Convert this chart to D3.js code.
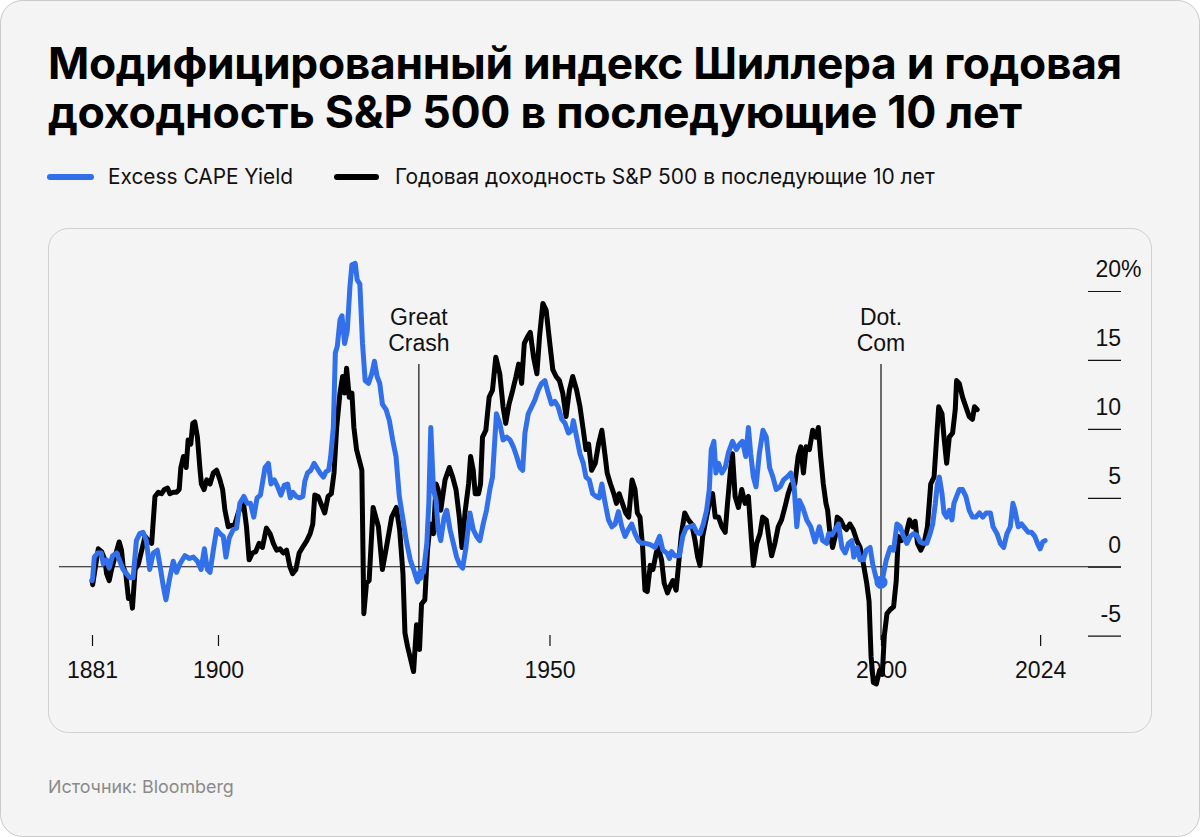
<!DOCTYPE html>
<html><head><meta charset="utf-8">
<script src="https://cdn.jsdelivr.net/npm/d3@7"></script>
<style>
html,body{margin:0;padding:0;background:#fff;}
svg{display:block;}
</style></head><body>
<svg id="chart" width="1200" height="837"></svg>
<script>
const titleLines = ["Модифицированный индекс Шиллера и годовая", "доходность S&P 500 в последующие 10 лет"];
const legendLabels = ["Excess CAPE Yield", "Годовая доходность S&P 500 в последующие 10 лет"];
const xTickYears = [1881, 1900, 1950, 2000, 2024];
const yTickValues = [-5, 0, 5, 10, 15, 20];
const events = [{label: ["Great", "Crash"], year: 1930.3}, {label: ["Dot.", "Com"], year: 2000}];
const sourceText = "Источник: Bloomberg";

// Excess CAPE Yield, % [year, value]
const excessCapeYield = [
[1881.0,-1.0],[1881.1,-0.8],[1881.35,0.7],[1881.85,1.0],[1882.4,1.0],[1882.7,0.2],[1883.2,0.5],[1883.6,-0.1],[1884.1,0.8],[1884.7,1.0],
[1885.2,0.4],[1885.7,-0.2],[1886.2,-0.5],[1886.7,-0.8],[1887.2,-0.8],[1887.7,1.9],[1888.2,2.4],[1888.7,2.5],[1889.2,1.9],[1889.7,-0.2],
[1890.25,1.0],[1890.85,1.2],[1891.35,-0.2],[1891.75,-1.4],[1892.15,-2.4],[1892.65,-1.0],[1893.25,0.4],[1893.75,-0.4],[1894.25,0.2],[1895.0,0.8],
[1895.7,0.6],[1896.3,0.7],[1896.9,0.4],[1897.45,-0.2],[1897.95,1.3],[1898.4,-0.2],[1898.8,-0.4],[1899.3,1.2],[1899.8,2.7],[1900.3,2.4],
[1900.8,2.2],[1901.2,0.7],[1901.7,2.1],[1902.3,2.7],[1902.8,2.8],[1903.3,4.6],[1903.9,5.1],[1904.4,4.6],[1904.9,4.6],[1905.4,3.6],
[1905.9,5.0],[1906.4,5.2],[1907.1,7.2],[1907.6,7.5],[1908.0,6.0],[1908.5,6.3],[1909.0,5.8],[1909.5,5.2],[1910.0,5.9],[1910.5,6.0],
[1910.9,5.0],[1911.3,5.4],[1911.8,5.1],[1912.3,5.0],[1912.8,5.1],[1913.1,6.2],[1913.5,6.8],[1914.0,7.0],[1914.5,7.5],[1914.9,7.2],
[1915.4,6.8],[1915.9,6.5],[1916.3,6.9],[1916.7,7.0],[1917.0,8.0],[1917.4,10.1],[1917.7,15.5],[1918.0,16.0],[1918.4,17.9],[1918.7,18.2],
[1919.1,16.2],[1919.5,17.1],[1919.9,20.3],[1920.2,21.9],[1920.7,22.0],[1921.0,20.8],[1921.4,20.5],[1921.8,16.2],[1922.2,13.5],[1922.7,13.3],
[1923.2,14.0],[1923.6,14.9],[1924.0,13.8],[1924.4,13.3],[1924.8,11.8],[1925.35,11.4],[1925.85,10.6],[1926.35,9.2],[1926.85,8.0],[1927.35,5.1],
[1927.85,3.6],[1928.4,1.9],[1929.0,0.5],[1929.5,-0.2],[1930.1,-1.1],[1930.5,-0.3],[1931.0,-0.4],[1931.5,1.7],[1931.8,4.6],[1932.1,10.1],
[1932.5,5.6],[1932.9,4.8],[1933.2,2.7],[1933.6,1.9],[1934.1,3.6],[1934.5,4.1],[1935.0,2.7],[1935.5,1.7],[1936.0,0.7],[1936.5,0.1],
[1936.9,-0.1],[1937.4,1.4],[1938.0,3.9],[1938.5,2.7],[1939.0,2.2],[1939.5,1.9],[1940.0,3.1],[1940.5,4.1],[1941.0,5.6],[1941.4,6.5],
[1942.0,11.1],[1942.5,10.4],[1943.0,9.2],[1943.55,9.4],[1944.05,9.2],[1944.55,8.7],[1945.05,8.0],[1945.55,7.2],[1945.95,7.0],[1946.3,9.7],
[1946.8,11.1],[1947.3,11.6],[1947.8,12.1],[1948.3,12.8],[1948.8,13.3],[1949.3,13.5],[1949.8,12.6],[1950.3,11.8],[1950.8,12.0],[1951.3,11.6],
[1951.85,10.7],[1952.35,10.4],[1952.85,9.7],[1953.35,9.9],[1953.6,10.6],[1954.1,9.4],[1954.6,8.2],[1955.1,7.5],[1955.5,6.5],[1956.0,6.3],
[1956.5,5.3],[1957.0,5.1],[1957.5,5.0],[1957.9,6.0],[1958.4,4.6],[1958.9,3.4],[1959.4,2.9],[1959.9,3.1],[1960.4,4.0],[1960.9,2.9],
[1961.4,2.2],[1961.9,2.7],[1962.4,3.1],[1962.9,2.4],[1963.4,1.9],[1963.9,1.7],[1964.5,1.7],[1965.2,1.6],[1965.9,1.4],[1966.6,2.2],
[1967.1,1.2],[1967.7,1.0],[1968.1,0.6],[1968.4,1.1],[1968.9,0.8],[1969.6,0.8],[1970.1,2.2],[1970.6,2.8],[1971.1,2.9],[1971.7,3.0],
[1972.2,2.5],[1972.7,2.4],[1973.2,3.1],[1973.7,4.1],[1974.1,5.6],[1974.4,8.5],[1974.8,9.1],[1975.1,6.8],[1975.5,7.5],[1976.0,6.8],
[1976.5,7.2],[1977.0,8.3],[1977.6,9.1],[1978.2,8.5],[1978.7,8.9],[1979.1,9.1],[1979.6,8.0],[1980.0,10.1],[1980.35,8.2],[1980.75,6.5],
[1981.15,5.8],[1981.65,8.2],[1982.2,9.9],[1982.7,9.4],[1983.2,7.2],[1983.7,6.5],[1984.2,5.6],[1984.8,5.8],[1985.3,6.3],[1985.8,6.5],
[1986.4,6.8],[1986.9,5.8],[1987.3,2.9],[1987.7,4.8],[1988.2,4.3],[1988.8,3.4],[1989.4,2.9],[1990.05,1.8],[1990.7,2.9],[1991.2,1.9],
[1991.8,1.7],[1992.1,2.4],[1992.6,2.3],[1993.1,2.7],[1993.6,3.1],[1994.1,1.4],[1994.6,1.0],[1995.1,1.7],[1995.6,1.9],[1995.9,0.7],
[1996.4,1.4],[1996.85,0.5],[1997.35,0.5],[1997.75,1.2],[1998.35,1.4],[1998.75,0.2],[1999.25,-0.8],[1999.8,-1.4],[2000.3,-0.7],[2000.8,0.5],
[2001.4,1.4],[2001.9,1.2],[2002.4,3.1],[2002.9,2.9],[2003.4,2.2],[2003.9,1.7],[2004.4,2.2],[2004.9,2.4],[2005.4,2.3],[2005.9,1.8],
[2006.4,1.7],[2006.9,1.7],[2007.4,2.4],[2007.8,3.1],[2008.2,4.6],[2008.5,6.0],[2008.8,6.5],[2009.2,5.3],[2009.5,3.9],[2009.9,3.6],
[2010.3,4.1],[2010.7,3.4],[2011.0,4.6],[2011.4,5.1],[2011.8,5.6],[2012.3,5.6],[2012.8,5.1],[2013.3,4.1],[2013.8,3.6],[2014.3,3.6],
[2014.85,3.9],[2015.35,3.6],[2015.85,3.9],[2016.5,3.9],[2016.9,2.9],[2017.5,2.4],[2018.0,1.7],[2018.5,1.4],[2019.0,2.4],[2019.5,2.9],
[2019.9,4.6],[2020.2,4.1],[2020.7,2.9],[2021.2,3.1],[2021.7,2.8],[2022.2,2.5],[2022.7,2.5],[2023.2,2.2],[2023.6,1.7],[2024.0,1.3],
[2024.4,1.8],[2024.75,1.9]
];

// Annualized S&P 500 return over the following 10 years, % [year, value]
const forwardReturn10y = [
[1881.0,-1.0],[1881.1,-1.3],[1881.45,-0.2],[1881.95,1.3],[1882.45,1.1],[1882.95,0.5],[1883.2,-0.5],[1883.6,-1.0],[1883.95,-0.2],[1884.45,0.7],
[1885.1,1.8],[1885.45,1.2],[1885.7,0.0],[1886.1,-0.5],[1886.5,-2.3],[1886.9,-2.2],[1887.1,-3.0],[1887.5,-0.2],[1888.0,0.2],[1888.5,1.2],
[1889.0,2.2],[1889.5,1.9],[1890.0,1.7],[1890.5,5.1],[1891.0,5.4],[1891.5,5.3],[1891.9,5.6],[1892.4,5.7],[1892.75,5.3],[1893.25,5.4],
[1893.75,5.4],[1894.15,5.6],[1894.4,7.2],[1894.8,8.0],[1895.2,7.2],[1895.5,9.2],[1895.9,8.9],[1896.2,10.4],[1896.5,10.5],[1896.9,9.4],
[1897.3,7.0],[1897.5,6.0],[1897.9,5.6],[1898.3,6.3],[1898.8,6.0],[1899.3,6.8],[1899.8,7.0],[1900.3,6.3],[1900.7,5.6],[1901.05,4.1],
[1901.55,2.9],[1902.05,3.0],[1902.55,3.1],[1903.05,3.9],[1903.8,4.8],[1904.3,2.9],[1904.7,0.5],[1905.2,1.0],[1905.7,1.1],[1906.2,1.7],
[1906.7,1.4],[1907.3,2.8],[1907.85,2.4],[1908.35,1.7],[1908.85,1.2],[1909.35,1.3],[1909.85,1.0],[1910.35,1.2],[1910.85,0.0],[1911.25,-0.5],
[1911.75,-0.2],[1912.25,1.0],[1912.75,1.4],[1913.4,1.9],[1913.9,2.4],[1914.3,3.1],[1914.6,5.2],[1915.1,5.1],[1915.6,4.5],[1916.1,3.9],
[1916.6,5.1],[1917.1,5.3],[1917.5,6.8],[1917.9,10.1],[1918.4,12.6],[1918.8,13.8],[1919.1,12.6],[1919.4,14.4],[1919.8,12.3],[1920.2,12.6],
[1920.5,10.1],[1920.9,8.5],[1921.7,7.0],[1922.0,-3.4],[1922.4,-1.2],[1922.8,-1.0],[1923.4,4.3],[1924.2,2.9],[1924.8,-0.2],[1925.4,1.4],
[1926.2,3.6],[1926.9,4.3],[1927.4,2.7],[1927.9,-0.5],[1928.2,-4.8],[1928.6,-5.8],[1929.1,-6.8],[1929.5,-7.6],[1929.95,-4.2],[1930.4,-6.0],
[1930.7,-2.7],[1931.2,-2.4],[1931.6,1.2],[1932.0,3.1],[1932.5,2.4],[1932.9,6.0],[1933.2,5.6],[1933.6,4.1],[1934.25,6.3],[1934.9,7.2],
[1935.4,6.5],[1935.9,5.6],[1936.4,3.6],[1936.8,1.4],[1937.3,4.1],[1937.8,6.0],[1938.1,8.0],[1938.5,7.0],[1938.8,5.3],[1939.3,5.3],
[1939.6,6.0],[1939.9,9.4],[1940.4,9.9],[1940.9,12.3],[1941.4,12.8],[1941.9,15.2],[1942.5,14.0],[1943.0,11.6],[1943.4,10.4],[1943.9,11.8],
[1944.45,12.8],[1944.95,13.8],[1945.35,14.7],[1945.8,13.3],[1946.2,16.2],[1946.7,16.7],[1947.1,17.0],[1947.6,15.2],[1948.1,14.0],[1948.5,16.7],
[1949.0,19.1],[1949.5,18.6],[1950.0,16.4],[1950.5,14.3],[1951.0,13.8],[1951.5,13.5],[1952.0,12.6],[1952.5,10.9],[1953.0,12.8],[1953.5,13.8],
[1954.1,12.8],[1954.6,11.6],[1955.1,9.9],[1955.5,8.5],[1955.9,8.9],[1956.35,7.0],[1956.9,7.5],[1957.4,8.9],[1957.9,9.9],[1958.4,8.0],
[1958.7,6.8],[1959.2,6.0],[1959.7,5.3],[1960.1,4.6],[1960.5,5.3],[1961.0,4.6],[1961.5,3.9],[1961.95,3.6],[1962.45,6.3],[1962.9,5.6],
[1963.25,3.9],[1963.65,3.6],[1964.05,1.4],[1964.4,-1.7],[1964.75,-1.8],[1965.2,0.1],[1965.6,-0.2],[1966.1,1.0],[1966.4,1.4],[1966.9,0.5],
[1967.3,-1.2],[1967.8,-1.9],[1968.2,-1.4],[1968.6,-1.0],[1969.1,-1.7],[1969.4,-0.2],[1969.9,2.4],[1970.4,3.9],[1970.95,3.4],[1971.45,3.1],
[1971.95,1.9],[1972.35,0.7],[1972.7,0.1],[1973.1,2.2],[1973.6,3.4],[1974.1,4.6],[1974.6,5.3],[1975.0,3.6],[1975.5,3.6],[1976.0,2.9],
[1976.5,2.5],[1976.85,4.6],[1977.3,7.0],[1977.6,8.2],[1978.0,5.1],[1978.5,4.3],[1979.0,5.6],[1979.5,4.6],[1980.0,5.1],[1980.5,1.7],
[1980.75,0.1],[1981.25,1.7],[1981.75,2.4],[1982.15,3.6],[1982.7,3.4],[1983.2,1.7],[1983.5,0.8],[1984.0,1.7],[1984.5,2.9],[1985.0,3.4],
[1985.5,4.3],[1986.0,5.3],[1986.5,6.0],[1987.0,6.0],[1987.5,8.0],[1987.9,8.7],[1988.3,6.8],[1988.7,8.7],[1989.2,8.5],[1989.7,9.9],
[1990.2,9.4],[1990.55,10.1],[1990.9,8.0],[1991.3,6.0],[1991.7,4.6],[1991.95,4.1],[1992.3,2.4],[1992.7,1.4],[1993.1,2.2],[1993.4,3.6],
[1993.9,3.4],[1994.4,2.9],[1994.8,2.7],[1995.3,3.1],[1995.8,2.7],[1996.35,1.9],[1996.85,1.4],[1997.35,0.2],[1997.85,-1.2],[1998.2,-2.5],
[1998.5,-6.5],[1998.85,-8.4],[1999.3,-8.5],[1999.8,-7.5],[2000.2,-7.8],[2000.5,-5.0],[2000.9,-3.4],[2001.4,-3.1],[2001.9,-2.9],[2002.3,-1.0],
[2002.6,2.2],[2003.1,1.9],[2003.8,2.4],[2004.3,3.4],[2004.8,2.9],[2005.15,3.3],[2005.5,1.7],[2006.0,1.2],[2006.5,1.7],[2007.0,2.9],
[2007.5,6.0],[2008.0,6.5],[2008.4,9.4],[2008.7,11.6],[2009.2,11.1],[2009.5,9.4],[2009.9,7.5],[2010.3,9.4],[2010.8,9.7],[2011.2,11.4],
[2011.4,13.5],[2011.8,13.3],[2012.3,12.3],[2012.8,11.6],[2013.3,10.9],[2013.8,10.7],[2014.1,11.6],[2014.5,11.4]
];

const BLUE = "#3170ea";
const svg = d3.select("#chart");

// page card
svg.append("rect").attr("x", 0.5).attr("y", 0.5).attr("width", 1199).attr("height", 836)
  .attr("rx", 22).attr("fill", "#f4f4f4").attr("stroke", "#c9c9c9");

function fit(sel, w) {
  const L = sel.node().getComputedTextLength();
  const fs = parseFloat(sel.attr("font-size"));
  sel.attr("font-size", fs * w / L);
}

// title: one text element, one tspan per line
const titleWidths = [1074, 974];
const title = svg.append("text").attr("x", 48).attr("y", 79)
  .attr("font-family", "Inter, 'Noto Sans', sans-serif").attr("font-weight", 700)
  .attr("letter-spacing", "-0.3").attr("fill", "#000");
titleLines.forEach((t, i) => {
  const ts = title.append("tspan").attr("x", 48).attr("y", 79 + i * 49)
    .attr("font-size", 44).text(t);
  fit(ts, titleWidths[i]);
});

// legend
const legendItems = [
  {label: legendLabels[0], color: BLUE, x0: 50, x1: 91, tx: 108, w: 185},
  {label: legendLabels[1], color: "#000", x0: 337, x1: 376, tx: 395, w: 540}
];
legendItems.forEach(d => {
  svg.append("line").attr("x1", d.x0).attr("x2", d.x1).attr("y1", 177).attr("y2", 177)
    .attr("stroke", d.color).attr("stroke-width", 6).attr("stroke-linecap", "round");
  const s = svg.append("text").attr("x", d.tx).attr("y", 184)
    .attr("font-family", "Inter, 'Noto Sans', sans-serif").attr("font-size", 18)
    .attr("fill", "#111").text(d.label);
  fit(s, d.w);
});

// chart panel
svg.append("rect").attr("x", 48.5).attr("y", 228.5).attr("width", 1103).attr("height", 504)
  .attr("rx", 20).attr("fill", "#f4f4f4").attr("stroke", "#cfcfcf");

const x = d3.scaleLinear().domain([1881, 2000]).range([92, 881]);
const y = d3.scaleLinear().domain([-5, 20]).range([635.7, 291]);
const chartFont = "'Liberation Sans', Arial, sans-serif";

// y axis (right side, labels above short rules)
const yAxis = d3.axisRight(y).tickValues(yTickValues).tickSize(33).tickFormat("");
const yg = svg.append("g").attr("transform", "translate(1088,0)").call(yAxis);
yg.select(".domain").remove();
yg.selectAll(".tick line").attr("stroke", "#111").attr("stroke-width", 1.2);
yTickValues.forEach(v => {
  svg.append("text").attr("x", 1121).attr("y", y(v) - 14).attr("text-anchor", "end")
    .attr("font-family", chartFont).attr("font-size", 23).attr("fill", "#111").text(v);
  if (v === 20) {
    svg.append("text").attr("x", 1121).attr("y", y(v) - 14)
      .attr("font-family", chartFont).attr("font-size", 23).attr("fill", "#111").text("%");
  }
});

// zero line
svg.append("line").attr("x1", 59).attr("x2", 1121).attr("y1", y(0)).attr("y2", y(0))
  .attr("stroke", "#111").attr("stroke-width", 1.2);

// x axis
const xAxis = d3.axisBottom(x).tickValues(xTickYears).tickSize(11).tickFormat(d3.format("d"));
const xg = svg.append("g").attr("transform", "translate(0,635)").call(xAxis);
xg.select(".domain").remove();
xg.selectAll(".tick line").attr("stroke", "#111").attr("stroke-width", 1.2);
xg.selectAll(".tick text").attr("y", 43).attr("dy", 0).attr("font-family", chartFont)
  .attr("font-size", 23).attr("fill", "#111");

// event annotations
events.forEach((e, i) => {
  const ex = x(e.year);
  svg.append("line").attr("x1", ex).attr("x2", ex).attr("y1", 364).attr("y2", i === 0 ? 580 : 640)
    .attr("stroke", "#111").attr("stroke-width", 1.2);
  e.label.forEach((t, j) => {
    svg.append("text").attr("x", ex).attr("y", 325 + j * 26).attr("text-anchor", "middle")
      .attr("font-family", chartFont).attr("font-size", 23).attr("fill", "#111").text(t);
  });
});

const line = d3.line().x(d => x(d[0])).y(d => y(d[1])).curve(d3.curveLinear);
svg.append("path").datum(forwardReturn10y).attr("d", line).attr("fill", "none")
  .attr("stroke", "#000").attr("stroke-width", 5).attr("stroke-linejoin", "round").attr("stroke-linecap", "round");
svg.append("path").datum(excessCapeYield).attr("d", line).attr("fill", "none")
  .attr("stroke", BLUE).attr("stroke-width", 5).attr("stroke-linejoin", "round").attr("stroke-linecap", "round");

// markers on the blue series at each event
function valueAt(series, yr) {
  const i = d3.bisector(d => d[0]).left(series, yr);
  const a = series[Math.max(0, i - 1)], b = series[Math.min(series.length - 1, i)];
  if (a[0] === b[0]) return a[1];
  return a[1] + (b[1] - a[1]) * (yr - a[0]) / (b[0] - a[0]);
}
events.forEach((e, i) => {
  svg.append("circle").attr("cx", x(e.year)).attr("cy", y(valueAt(excessCapeYield, e.year)))
    .attr("r", i === 0 ? 5 : 6.5).attr("fill", BLUE);
});

// source
const src = svg.append("text").attr("x", 48).attr("y", 793)
  .attr("font-family", "Inter, 'Noto Sans', sans-serif").attr("font-size", 17)
  .attr("fill", "#8a8a8a").text(sourceText);
fit(src, 186);
</script>
</body></html>
